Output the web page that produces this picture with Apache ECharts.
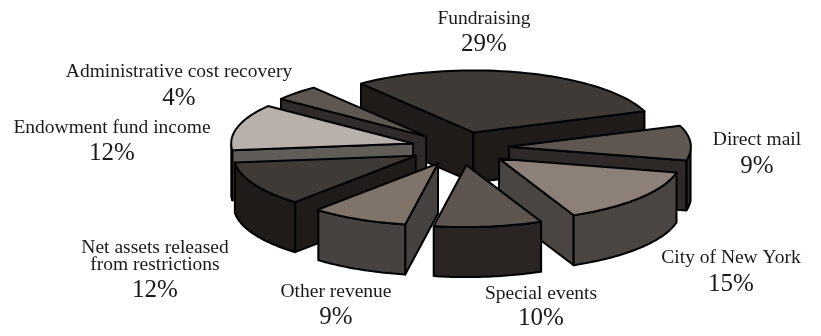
<!DOCTYPE html>
<html>
<head>
<meta charset="utf-8">
<title>Revenue sources</title>
<style>html,body{margin:0;padding:0;background:#fff}#chart{width:821px;height:336px}</style>
<script src="https://cdn.jsdelivr.net/npm/echarts@6/dist/echarts.min.js"></script>
</head>
<body>
<div id="chart"></div>
<script>
// Revenue shares, clockwise from the top slice
const categories = ['Fundraising', 'Direct mail', 'City of New York', 'Special events', 'Other revenue', 'Net assets released\nfrom restrictions', 'Endowment fund income', 'Administrative cost recovery'];
const shares = [29, 9, 15, 10, 9, 12, 12, 4];

// Colours of each slice
const topColors = ['#3f3a36', '#5e5650', '#8c8078', '#5e5450', '#807369', '#3f3a36', '#b8b0aa', '#5e5650'];
const wallColors = ['#1f1b18', '#2e2926', '#4a4541', '#2a2523', '#464240', '#1f1b18', '#605c58', '#302b28'];

// Label anchors: centre x, centre y of the name block, y of the percentage
const labelX = [484, 757, 731, 541, 336, 155, 112, 179];
const nameY = [19, 140, 258, 294, 292, 256.5, 128, 72];
const pctY = [44.5, 166.5, 284.5, 318.5, 317.5, 290.5, 153.5, 98.5];

// Slices are painted back to front
const paintOrder = [0, 7, 1, 6, 5, 2, 4, 3];

// Projection of the pie disc, with a slight angular skew from the oblique view
const CX = 460, CY = 148.5, RX = 182, RY = 62, DEPTH = 50, EXPLODE = 0.27, START = 22;
const SKEW = 2.4, SKEW_PHASE = 10;

const total = shares.reduce((a, b) => a + b, 0);
const slices = [];
let cursor = START + shares[0] / total * 360;
shares.forEach((v) => {
  const sweep = v / total * 360;
  slices.push({ from: cursor, to: cursor - sweep });
  cursor -= sweep;
});

const rad = (d) => d * Math.PI / 180;
const project = (ox, oy, deg) => {
  const a = rad(deg - SKEW * Math.cos(rad(deg + SKEW_PHASE)));
  return [ox + RX * Math.cos(a), oy - RY * Math.sin(a)];
};

function arcPoints(ox, oy, from, to) {
  const n = Math.max(2, Math.ceil(Math.abs(from - to) / 2));
  const pts = [];
  for (let k = 0; k <= n; k++) pts.push(project(ox, oy, from + (to - from) * k / n));
  return pts;
}

function drop(pts) { return pts.map((p) => [p[0], p[1] + DEPTH]); }

function face(points, fill) {
  return {
    type: 'polygon',
    shape: { points },
    style: { fill, stroke: '#000', lineWidth: 2, lineJoin: 'round' }
  };
}

function renderSlice(params, api) {
  const i = api.value(0);
  const { from, to } = slices[i];
  const mid = (from + to) / 2;
  const ox = CX + EXPLODE * RX * Math.cos(rad(mid));
  const oy = CY - EXPLODE * RY * Math.sin(rad(mid));
  const apex = [ox, oy];
  const wall = wallColors[i];
  const children = [];

  // Radial walls, only those turned toward the viewer
  const radial = [
    { deg: from, normal: from + 90 },
    { deg: to, normal: to - 90 }
  ];
  radial.forEach((w) => {
    if (Math.sin(rad(w.normal)) < 0) {
      const rim = project(ox, oy, w.deg);
      children.push(face([apex, rim, [rim[0], rim[1] + DEPTH], [apex[0], apex[1] + DEPTH]], wall));
    }
  });

  // Outer rim, the part of the arc on the near side of the disc
  const norm = (d) => ((d % 360) + 360) % 360;
  const near = [];
  for (let d = from; d >= to - 1e-6; d -= 1) {
    if (norm(d) >= 180) near.push(d);
  }
  if (near.length > 1) {
    const top = near.map((d) => project(ox, oy, d));
    children.push(face(top.concat(drop(top).reverse()), wall));
  }

  // Top surface
  children.push(face([apex].concat(arcPoints(ox, oy, from, to)), topColors[i]));

  // Name and percentage
  children.push({
    type: 'text',
    style: {
      text: categories[i], x: labelX[i], y: nameY[i],
      align: 'center', verticalAlign: 'middle',
      font: '19.5px "Liberation Serif"', lineHeight: 17, fill: '#1a1a1a'
    }
  });
  children.push({
    type: 'text',
    style: {
      text: shares[i] + '%', x: labelX[i], y: pctY[i],
      align: 'center', verticalAlign: 'middle',
      font: '25px "Liberation Serif"', fill: '#1a1a1a'
    }
  });
  return { type: 'group', children };
}

const chart = echarts.init(document.getElementById('chart'), null, { renderer: 'canvas' });
chart.setOption({
  animation: false,
  backgroundColor: '#fff',
  series: [{
    type: 'custom',
    coordinateSystem: 'none',
    silent: true,
    renderItem: renderSlice,
    data: paintOrder.map((i) => [i])
  }]
});
</script>
</body>
</html>
